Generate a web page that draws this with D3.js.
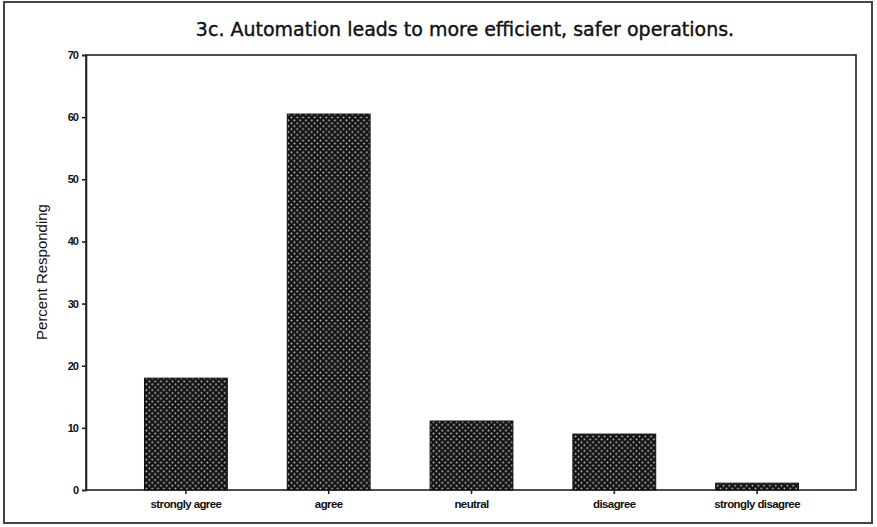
<!DOCTYPE html>
<html><head><meta charset="utf-8">
<script src="https://cdn.jsdelivr.net/npm/d3@7"></script>
<style>html,body{margin:0;padding:0;background:#fff;}</style>
</head><body>
<svg id="c" width="877" height="527"></svg>
<script>
const categories = ["strongly agree","agree","neutral","disagree","strongly disagree"];
const values = [18.0, 60.5, 11.1, 9.0, 1.1];
const yTicks = [0,10,20,30,40,50,60,70];
const title = "3c. Automation leads to more efficient, safer operations.";
const yTitle = "Percent Responding";

const svg = d3.select("#c");
const plot = {left:86, right:856, top:55, bottom:490};

// outer frame
svg.append("rect").attr("x",4).attr("y",2).attr("width",868).attr("height",521)
  .attr("fill","#fff").attr("stroke","#444").attr("stroke-width",2);

// pattern
const defs = svg.append("defs");
const pat = defs.append("pattern").attr("id","dots").attr("patternUnits","userSpaceOnUse")
  .attr("width",5.8).attr("height",5.8);
pat.append("rect").attr("width",5.8).attr("height",5.8).attr("fill","#111");
pat.append("circle").attr("cx",1.45).attr("cy",1.45).attr("r",0.95).attr("fill","#c8c8c8");
pat.append("circle").attr("cx",4.35).attr("cy",4.35).attr("r",0.95).attr("fill","#c8c8c8");

const x = d3.scaleBand().domain(categories).range([114.5, 828.5]).paddingInner(0.42).paddingOuter(0.21);
const y = d3.scaleLinear().domain([0,70]).range([plot.bottom, plot.top]);

// plot frame
svg.append("rect").attr("x",plot.left).attr("y",plot.top)
  .attr("width",plot.right-plot.left).attr("height",plot.bottom-plot.top)
  .attr("fill","none").attr("stroke","#222").attr("stroke-width",1.6);

// bars
svg.selectAll("rect.bar").data(categories).enter().append("rect").attr("class","bar")
  .attr("x",d=>x(d)).attr("width",x.bandwidth())
  .attr("y",(d,i)=>y(values[i])).attr("height",(d,i)=>y(0)-y(values[i]))
  .attr("fill","url(#dots)").attr("stroke","#111").attr("stroke-width",1);

// y axis
const yAxis = d3.axisLeft(y).tickValues(yTicks).tickSize(4).tickPadding(4);
const gy = svg.append("g").attr("transform",`translate(${plot.left},0)`).call(yAxis);
gy.select(".domain").attr("stroke","#222").attr("stroke-width",1.6);
gy.selectAll(".tick line").attr("stroke","#222").attr("stroke-width",1.6);
gy.selectAll(".tick text").attr("font-family","Liberation Sans, Arial, sans-serif")
  .attr("font-size",11).attr("font-weight","bold").attr("fill","#111").attr("letter-spacing","-1");

// x axis
const xAxis = d3.axisBottom(x).tickSize(4).tickPadding(6);
const gx = svg.append("g").attr("transform",`translate(0,${plot.bottom})`).call(xAxis);
gx.select(".domain").remove();
gx.selectAll(".tick line").attr("stroke","#222").attr("stroke-width",1.6);
gx.selectAll(".tick text").attr("font-family","Liberation Sans, Arial, sans-serif")
  .attr("font-size",11.5).attr("font-weight","bold").attr("fill","#111").attr("letter-spacing","-0.6");

// title
svg.append("text").attr("x",465).attr("y",36).attr("text-anchor","middle")
  .attr("font-family","DejaVu Sans, Verdana, sans-serif").attr("font-size",19)
  .attr("fill","#111").attr("stroke","#111").attr("stroke-width",0.4).text(title);

// y title
svg.append("text").attr("transform","translate(47,272) rotate(-90)").attr("text-anchor","middle")
  .attr("font-family","Liberation Sans, Arial, sans-serif").attr("font-size",15)
  .attr("fill","#111").text(yTitle);
</script>
</body></html>
